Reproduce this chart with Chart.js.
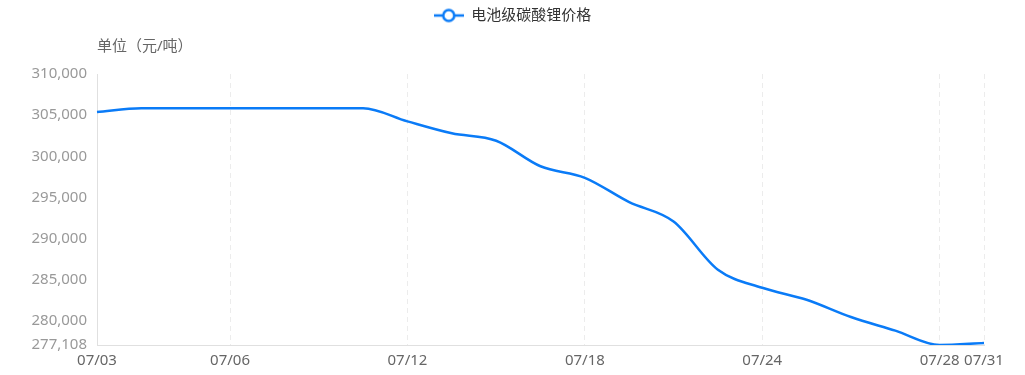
<!DOCTYPE html>
<html lang="zh">
<head>
  <meta charset="UTF-8" />
  <title>电池级碳酸锂价格</title>
  <script src="https://cdn.jsdelivr.net/npm/chart.js"></script>
  <style>
    body { margin: 0; background: #fff; }
    #priceChart { display: block; }
  </style>
</head>
<body>
  <canvas id="priceChart" width="1025" height="375"></canvas>
  <script>
    // trading days, July
    const dates = ['07/03', '07/04', '07/05', '07/06', '07/07', '07/10', '07/11', '07/12', '07/13', '07/14',
      '07/17', '07/18', '07/19', '07/20', '07/21', '07/24', '07/25', '07/26', '07/27', '07/28', '07/31'];
    const prices = [305400, 305850, 305850, 305850, 305850, 305850, 305850, 304250, 302800, 301900,
      298800, 297400, 294450, 292100, 286250, 284050, 282600, 280500, 278850, 277108, 277350];
    const shownDates = ['07/03', '07/06', '07/12', '07/18', '07/24', '07/28', '07/31'];
    const yTicks = [277108, 280000, 285000, 290000, 295000, 300000, 305000, 310000];
    const yMin = 277108;
    const yMax = 310000;
    const seriesName = '电池级碳酸锂价格';
    const yTitle = '单位（元/吨）';

    const blue = '#0a7bf7';
    const fontFamily = '"Noto Sans", "Noto Sans CJK SC", sans-serif';

    // legend icon: line with hollow circle
    const icon = document.createElement('canvas');
    icon.width = 30;
    icon.height = 16;
    const ic = icon.getContext('2d');
    ic.strokeStyle = blue;
    ic.lineWidth = 2.5;
    ic.beginPath();
    ic.moveTo(0, 8);
    ic.lineTo(30, 8);
    ic.stroke();
    ic.beginPath();
    ic.arc(15, 8, 5.5, 0, Math.PI * 2);
    ic.fillStyle = '#fff';
    ic.fill();
    ic.stroke();

    // legend takes the whole top band and is centred on the full canvas
    const legendSpace = {
      id: 'legendSpace',
      beforeInit(chart) {
        const fit = chart.legend.fit;
        chart.legend.fit = function () {
          fit.call(this);
          this.height = 74;
        };
      },
      afterLayout(chart) {
        chart.legend.left = 0;
        chart.legend.right = chart.width;
        chart.legend.width = chart.width;
      }
    };

    const axisTitle = {
      id: 'axisTitle',
      afterDraw(chart) {
        const ctx = chart.ctx;
        ctx.save();
        ctx.font = '15px ' + fontFamily;
        ctx.fillStyle = '#666';
        ctx.textBaseline = 'middle';
        ctx.textAlign = 'left';
        ctx.fillText(yTitle, chart.chartArea.left, 47);
        ctx.restore();
      }
    };

    const ctx = document.getElementById('priceChart').getContext('2d');
    new Chart(ctx, {
      type: 'line',
      data: {
        labels: dates,
        datasets: [{
          label: seriesName,
          data: prices,
          borderColor: blue,
          backgroundColor: '#fff',
          borderWidth: 2.5,
          pointRadius: 0,
          pointHoverRadius: 0,
          pointStyle: icon,
          cubicInterpolationMode: 'monotone',
          fill: false
        }]
      },
      options: {
        responsive: false,
        animation: false,
        layout: { padding: { left: 0, right: 41, top: 0, bottom: 0 } },
        plugins: {
          legend: {
            position: 'top',
            labels: {
              usePointStyle: true,
              pointStyleWidth: 30,
              padding: 8,
              color: '#333',
              font: { family: fontFamily, size: 15 }
            }
          },
          tooltip: { enabled: false }
        },
        scales: {
          x: {
            type: 'category',
            afterBuildTicks: axis => {
              axis.ticks = shownDates.map(d => ({ value: dates.indexOf(d) }));
            },
            afterFit: scale => { scale.height = 30; },
            ticks: {
              autoSkip: false,
              maxRotation: 0,
              padding: 7,
              color: '#666',
              font: { family: fontFamily, size: 15 }
            },
            grid: {
              color: '#ececec',
              lineWidth: 1,
              drawTicks: false
            },
            border: { display: true, color: '#e0e0e0', width: 1, dash: [5, 4] }
          },
          y: {
            min: yMin,
            max: yMax,
            afterBuildTicks: axis => {
              axis.ticks = yTicks.map(v => ({ value: v }));
            },
            afterFit: scale => { scale.width = 97; },
            ticks: {
              padding: 10,
              color: '#999',
              font: { family: fontFamily, size: 15 },
              callback: v => Number(v).toLocaleString('en-US')
            },
            grid: { display: false, drawTicks: false },
            border: { display: true, color: '#e0e0e0', width: 1 }
          }
        }
      },
      plugins: [legendSpace, axisTitle]
    });
  </script>
</body>
</html>
